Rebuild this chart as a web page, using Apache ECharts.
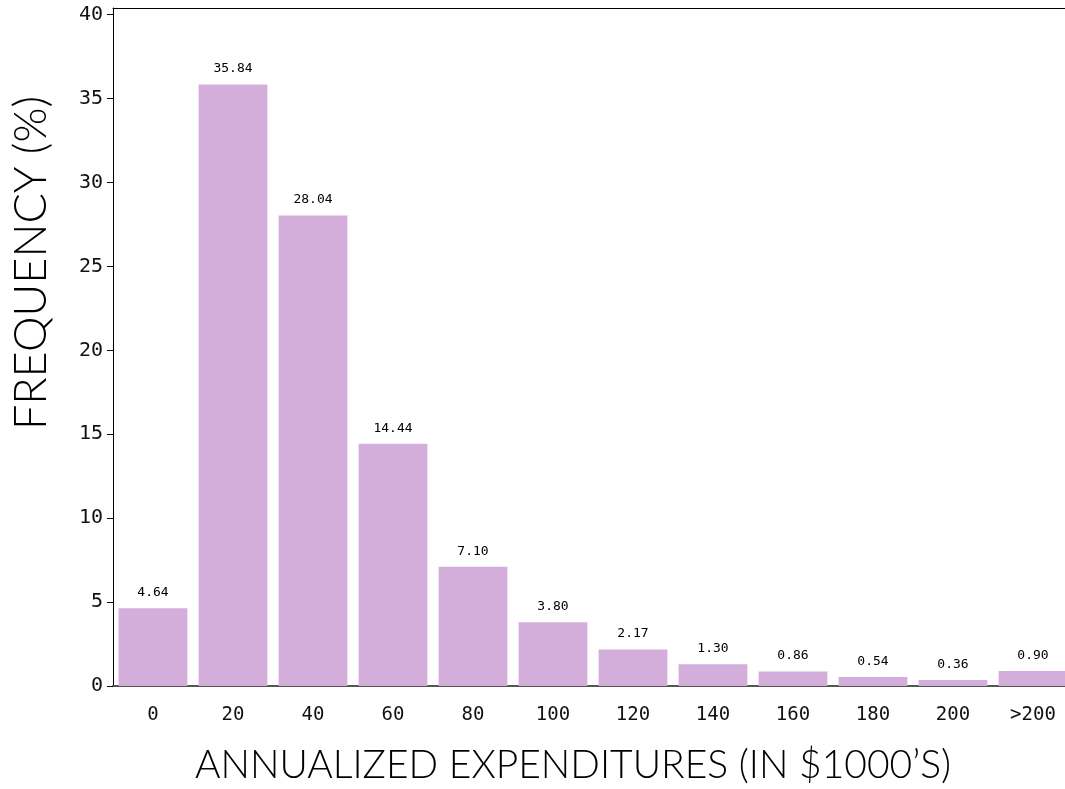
<!DOCTYPE html>
<html><head><meta charset="utf-8">
<script src="https://cdn.jsdelivr.net/npm/echarts@6/dist/echarts.min.js"></script>
<style>html,body{margin:0;padding:0;background:#fff;overflow:hidden}#c{width:1080px;height:789px}</style>
</head><body><div id="c"></div>
<script>
const categories = ['0','20','40','60','80','100','120','140','160','180','200','>200'];
const frequency = [4.64, 35.84, 28.04, 14.44, 7.10, 3.80, 2.17, 1.30, 0.86, 0.54, 0.36, 0.90];
const yTicks = [0,5,10,15,20,25,30,35,40];
const xTitle = 'ANNUALIZED EXPENDITURES (IN $1000\u2019S)';
const yTitle = 'FREQUENCY (%)';

const chart = echarts.init(document.getElementById('c'));
const titleBase = {fontFamily:'Lato, "Open Sans", sans-serif', fontWeight:300, fill:'#000'};
chart.setOption({
  animation:false,
  grid:{left:113, right:7, top:8, bottom:103, containLabel:false},
  xAxis:[{
    type:'category', data:categories, position:'bottom',
    axisLine:{lineStyle:{color:'#555', width:2}},
    axisTick:{show:false},
    axisLabel:{fontFamily:'"DejaVu Sans Mono", monospace', fontSize:19, color:'#111', margin:20}
  },{
    type:'category', data:categories, position:'top',
    axisLine:{show:true, lineStyle:{color:'#000', width:1}},
    axisTick:{show:false}, axisLabel:{show:false}
  }],
  yAxis:{
    type:'value', min:0, max:40.4,
    axisLine:{show:true, lineStyle:{color:'#000', width:1}},
    axisTick:{show:true, length:6, lineStyle:{color:'#000'}, customValues:yTicks},
    axisLabel:{fontFamily:'"DejaVu Sans Mono", monospace', fontSize:20, color:'#111', margin:10, customValues:yTicks},
    splitLine:{show:false}
  },
  series:[{
    type:'bar', data:frequency, barCategoryGap:'14%',
    itemStyle:{color:'#d3aedb'},
    label:{show:true, position:'top', distance:9, formatter:p=>p.value.toFixed(2),
      fontFamily:'"DejaVu Sans Mono", monospace', fontSize:13, color:'#000'}
  }],
  graphic:[
    {type:'text', x:573, y:765, style:Object.assign({text:xTitle, textAlign:'center', textVerticalAlign:'middle', fontSize:39}, titleBase)},
    {type:'text', rotation:Math.PI/2, x:9, y:263, style:Object.assign({text:yTitle, textAlign:'center', textVerticalAlign:'top', fontSize:45}, titleBase)}
  ]
});
</script></body></html>
